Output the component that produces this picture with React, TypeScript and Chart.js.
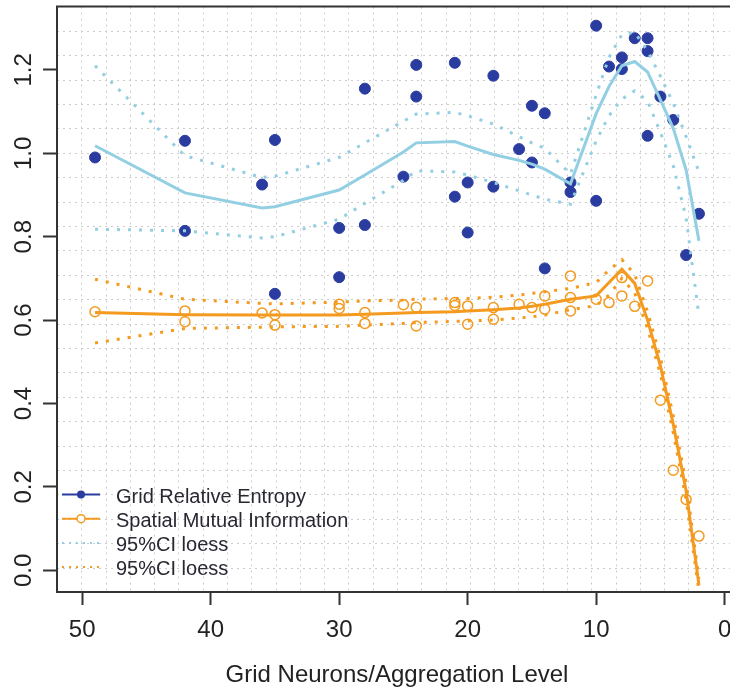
import React, { useEffect, useRef } from "react";
import { Chart, registerables } from "chart.js";

Chart.register(...registerables);

// ---- data ----
const xTicks = [50, 40, 30, 20, 10, 0];
const yTicks = [0, 0.2, 0.4, 0.6, 0.8, 1.0, 1.2];

const entropyX = [49, 42, 42, 36, 35, 35, 30, 30, 28, 28, 25, 24, 24, 21, 21, 20, 20, 18, 18, 16, 15, 15, 14, 14, 12, 12, 10, 10, 9, 8, 8, 7, 6, 6, 6, 5, 4, 3, 2];
const entropyY = [0.99, 1.03, 0.814, 0.925, 1.032, 0.663, 0.821, 0.703, 1.155, 0.828, 0.944, 1.212, 1.136, 1.217, 0.896, 0.93, 0.81, 1.186, 0.92, 1.01, 1.114, 0.978, 1.096, 0.724, 0.93, 0.907, 1.306, 0.886, 1.208, 1.23, 1.202, 1.276, 1.276, 1.245, 1.042, 1.136, 1.08, 0.756, 0.855];

const smiX = [49, 42, 42, 36, 35, 35, 30, 30, 28, 28, 25, 24, 24, 21, 21, 20, 20, 18, 18, 16, 15, 14, 14, 12, 12, 12, 10, 9, 8, 8, 7, 6, 5, 4, 3, 2];
const smiY = [0.62, 0.622, 0.596, 0.617, 0.613, 0.588, 0.638, 0.628, 0.618, 0.592, 0.637, 0.631, 0.586, 0.642, 0.635, 0.634, 0.59, 0.63, 0.602, 0.638, 0.63, 0.658, 0.626, 0.706, 0.654, 0.622, 0.65, 0.642, 0.702, 0.658, 0.633, 0.694, 0.408, 0.24, 0.17, 0.082];

const fitX = [49, 42, 36, 35, 30, 28, 25, 24, 21, 20, 18, 16, 15, 14, 12, 10, 9, 8, 7, 6, 5, 4, 3, 2];
const entropyFit = [1.018, 0.905, 0.869, 0.872, 0.912, 0.948, 1.003, 1.025, 1.028, 1.017, 0.997, 0.983, 0.974, 0.962, 0.927, 1.095, 1.16, 1.21, 1.22, 1.195, 1.128, 1.06, 0.96, 0.79];
const entropyUpper = [1.21, 0.994, 0.942, 0.945, 0.99, 1.025, 1.077, 1.094, 1.098, 1.09, 1.07, 1.04, 1.025, 1.012, 0.95, 1.14, 1.23, 1.285, 1.29, 1.245, 1.185, 1.12, 1.04, 0.955];
const entropyLower = [0.818, 0.814, 0.797, 0.8, 0.842, 0.88, 0.935, 0.958, 0.955, 0.948, 0.93, 0.91, 0.9, 0.89, 0.878, 1.03, 1.09, 1.13, 1.15, 1.125, 1.05, 0.97, 0.845, 0.61];
const smiFit = [0.618, 0.613, 0.612, 0.612, 0.612, 0.614, 0.617, 0.618, 0.62, 0.622, 0.625, 0.629, 0.633, 0.638, 0.65, 0.658, 0.69, 0.722, 0.688, 0.6, 0.49, 0.35, 0.19, -0.035];
const smiUpper = [0.698, 0.65, 0.64, 0.639, 0.643, 0.646, 0.648, 0.65, 0.652, 0.652, 0.655, 0.66, 0.664, 0.668, 0.676, 0.69, 0.72, 0.745, 0.71, 0.62, 0.51, 0.37, 0.21, -0.02];
const smiLower = [0.545, 0.58, 0.583, 0.584, 0.585, 0.588, 0.592, 0.594, 0.597, 0.598, 0.6, 0.605, 0.608, 0.612, 0.625, 0.635, 0.66, 0.7, 0.665, 0.58, 0.47, 0.33, 0.17, -0.05];

const legendLabels = ["Grid Relative Entropy", "Spatial Mutual Information", "95%CI loess", "95%CI loess"];
const xTitle = "Grid Neurons/Aggregation Level";

// ---- axis limits / styles ----
const X_MIN = -0.96;
const X_MAX = 51.96;
const Y_MIN = -0.052;
const Y_MAX = 1.352;
const FONT = "'Liberation Sans', Arial, sans-serif";
const BLUE = "#2A3C9F";
const LIGHTBLUE = "#93CFE3";
const ORANGE = "#F49A1E";
const AXIS = "#333333";

const pts = (xs: number[], ys: number[]) => xs.map((x, i) => ({ x, y: ys[i] }));

const rPlugin = {
  id: "rstyle",
  beforeDatasetsDraw(chart: any) {
    const { ctx, chartArea: a, scales } = chart;
    const xs = scales.x;
    const ys = scales.y;
    ctx.save();
    ctx.beginPath();
    ctx.rect(a.left, a.top, a.right - a.left, a.bottom - a.top);
    ctx.clip();
    ctx.strokeStyle = "#cccccc";
    ctx.lineWidth = 1;
    ctx.setLineDash([2, 4]);
    ctx.beginPath();
    for (let k = 1; k < 28; k++) {
      const v = X_MAX - (k * (X_MAX - X_MIN)) / 28;
      const px = Math.round(xs.getPixelForValue(v)) + 0.5;
      ctx.moveTo(px, a.top);
      ctx.lineTo(px, a.bottom);
    }
    for (let k = 1; k < 24; k++) {
      const v = Y_MIN + (k * (Y_MAX - Y_MIN)) / 24;
      const py = Math.round(ys.getPixelForValue(v)) + 0.5;
      ctx.moveTo(a.left, py);
      ctx.lineTo(a.right, py);
    }
    ctx.stroke();
    ctx.restore();
  },
  afterDraw(chart: any) {
    const { ctx, chartArea: a, scales } = chart;
    const ys = scales.y;
    ctx.save();
    // box
    ctx.strokeStyle = AXIS;
    ctx.lineWidth = 2;
    ctx.setLineDash([]);
    ctx.strokeRect(a.left, a.top, a.right - a.left, a.bottom - a.top);
    // y tick labels, rotated like R's las=0
    ctx.fillStyle = "#222";
    ctx.font = `24px ${FONT}`;
    ctx.textAlign = "center";
    ctx.textBaseline = "alphabetic";
    yTicks.forEach((v) => {
      const py = ys.getPixelForValue(v);
      ctx.save();
      ctx.translate(31, py);
      ctx.rotate(-Math.PI / 2);
      ctx.fillText(v.toFixed(1), 0, 0);
      ctx.restore();
    });
    // legend
    const lx0 = 62;
    const lx1 = 100;
    const mx = 81;
    const tx = 116;
    const y0 = 494.5;
    const dy = 24.2;
    const styles = [
      { color: BLUE, dash: [] as number[], marker: "filled", width: 2 },
      { color: ORANGE, dash: [] as number[], marker: "open", width: 2 },
      { color: LIGHTBLUE, dash: [2, 5], marker: "", width: 2 },
      { color: ORANGE, dash: [2, 5], marker: "", width: 2 },
    ];
    legendLabels.forEach((lab, i) => {
      const y = y0 + i * dy;
      const s = styles[i];
      ctx.strokeStyle = s.color;
      ctx.lineWidth = s.width;
      ctx.setLineDash(s.dash);
      ctx.beginPath();
      ctx.moveTo(lx0, y);
      ctx.lineTo(lx1, y);
      ctx.stroke();
      ctx.setLineDash([]);
      if (s.marker === "filled") {
        ctx.fillStyle = s.color;
        ctx.beginPath();
        ctx.arc(mx, y, 4, 0, Math.PI * 2);
        ctx.fill();
      } else if (s.marker === "open") {
        ctx.fillStyle = "#fff";
        ctx.lineWidth = 1.5;
        ctx.beginPath();
        ctx.arc(mx, y, 4, 0, Math.PI * 2);
        ctx.fill();
        ctx.stroke();
      }
      ctx.fillStyle = "#2a2733";
      ctx.font = `20px ${FONT}`;
      ctx.textAlign = "left";
      ctx.textBaseline = "alphabetic";
      ctx.fillText(lab, tx, y + 8);
    });
    ctx.restore();
  },
};

export default function App() {
  const ref = useRef<HTMLCanvasElement | null>(null);
  useEffect(() => {
    if (!ref.current) return;
    const chart = new Chart(ref.current, {
      type: "scatter",
      data: {
        datasets: [
          {
            label: "Grid Relative Entropy",
            data: pts(entropyX, entropyY),
            backgroundColor: BLUE,
            borderColor: BLUE,
            pointRadius: 5.5,
            pointBorderWidth: 1,
            order: 3,
          },
          {
            label: "Spatial Mutual Information",
            data: pts(smiX, smiY),
            backgroundColor: "rgba(255,255,255,0)",
            borderColor: ORANGE,
            pointRadius: 5,
            pointBorderWidth: 1.5,
            order: 3,
          },
          {
            label: "entropy upper",
            data: pts(fitX, entropyUpper),
            showLine: true,
            pointRadius: 0,
            borderColor: LIGHTBLUE,
            borderWidth: 3,
            borderDash: [3, 8],
            order: 2,
          },
          {
            label: "entropy lower",
            data: pts(fitX, entropyLower),
            showLine: true,
            pointRadius: 0,
            borderColor: LIGHTBLUE,
            borderWidth: 3,
            borderDash: [3, 8],
            order: 2,
          },
          {
            label: "smi upper",
            data: pts(fitX, smiUpper),
            showLine: true,
            pointRadius: 0,
            borderColor: ORANGE,
            borderWidth: 3,
            borderDash: [3, 8],
            order: 2,
          },
          {
            label: "smi lower",
            data: pts(fitX, smiLower),
            showLine: true,
            pointRadius: 0,
            borderColor: ORANGE,
            borderWidth: 3,
            borderDash: [3, 8],
            order: 2,
          },
          {
            label: "entropy fit",
            data: pts(fitX, entropyFit),
            showLine: true,
            pointRadius: 0,
            borderColor: LIGHTBLUE,
            borderWidth: 3,
            order: 1,
          },
          {
            label: "smi fit",
            data: pts(fitX, smiFit),
            showLine: true,
            pointRadius: 0,
            borderColor: ORANGE,
            borderWidth: 3,
            order: 1,
          },
        ],
      },
      options: {
        responsive: false,
        animation: false,
        devicePixelRatio: 1,
        layout: { padding: { top: 3, right: 13, left: 0, bottom: 0 } },
        plugins: { legend: { display: false }, tooltip: { enabled: false } },
        scales: {
          x: {
            type: "linear",
            reverse: true,
            min: X_MIN,
            max: X_MAX,
            afterBuildTicks: (s: any) => {
              s.ticks = xTicks.map((v) => ({ value: v }));
            },
            afterFit: (s: any) => {
              s.height = 102;
            },
            ticks: {
              color: "#222",
              font: { family: FONT, size: 24 },
              padding: 11,
              maxRotation: 0,
              minRotation: 0,
              callback: (v: any) => String(v),
            },
            grid: {
              display: true,
              drawOnChartArea: false,
              drawTicks: true,
              tickLength: 13,
              tickColor: AXIS,
              tickWidth: 2,
            },
            border: { display: true, color: AXIS, width: 2 },
            title: {
              display: true,
              text: xTitle,
              color: "#222",
              font: { family: FONT, size: 24 },
              padding: { top: 0, bottom: 4 },
            },
          },
          y: {
            type: "linear",
            min: Y_MIN,
            max: Y_MAX,
            afterBuildTicks: (s: any) => {
              s.ticks = yTicks.map((v) => ({ value: v }));
            },
            afterFit: (s: any) => {
              s.width = 57;
            },
            ticks: { display: false },
            grid: {
              display: true,
              drawOnChartArea: false,
              drawTicks: true,
              tickLength: 14,
              tickColor: AXIS,
              tickWidth: 2,
            },
            border: { display: true, color: AXIS, width: 2 },
          },
        },
      },
      plugins: [rPlugin],
    });
    return () => chart.destroy();
  }, []);

  return (
    <div
      style={{
        position: "fixed",
        left: 0,
        top: 0,
        width: 730,
        height: 694,
        overflow: "hidden",
        background: "#fff",
      }}
    >
      <canvas ref={ref} width={750} height={694} style={{ display: "block", width: 750, height: 694 }} />
    </div>
  );
}
